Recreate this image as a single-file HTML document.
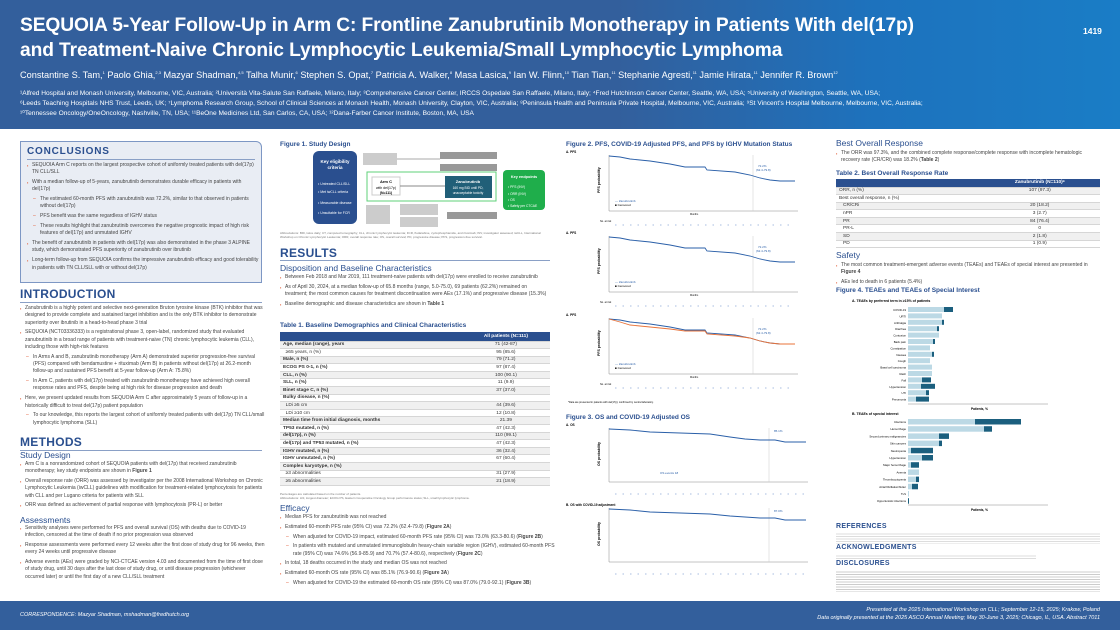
<!DOCTYPE html>
<html><head><meta charset="utf-8"><style>
*{margin:0;padding:0;box-sizing:border-box}
body{width:1120px;height:630px;overflow:hidden;background:#fff;font-family:"Liberation Sans",sans-serif;color:#333;position:relative}
.a{position:absolute}
.hdr{left:0;top:0;width:1120px;height:129px;background:linear-gradient(90deg,#335f9c 0%,#335f9c 55%,#1d72bd 78%,#1a7dc6 100%)}
.ftr{left:0;top:601px;width:1120px;height:29px;background:#335f9c}
.t{color:#fff;font-weight:bold;font-size:19.2px;letter-spacing:-0.1px;white-space:nowrap}
.b{font-size:5px;line-height:7.3px;color:#444}
.b p{padding-left:5px;position:relative;margin-bottom:2.5px}
.b p:before{content:"▪";color:#e0532a;position:absolute;left:0;font-size:4px}
.b p.d{padding-left:13px}
.b p.d:before{content:"–";left:6px;color:#e0532a;font-size:5px}
h2{position:absolute;color:#2a4f8f;font-size:12px;font-weight:bold;letter-spacing:.3px}
h3{position:absolute;color:#2a4f8f;font-size:8.5px;font-weight:normal}
.ft{position:absolute;color:#2a4f8f;font-size:6.5px;font-weight:bold}
.rule{position:absolute;height:1px;background:#8aa0c6}
table{border-collapse:collapse;font-size:4.8px;color:#333}
td{height:7.6px;padding:0 3px;border-bottom:1px solid #d6d6d6}
tr:nth-child(even) td{background:#f0f0f0}
</style></head><body>
<div class="a hdr"></div>
<div class="a t" style="left:20px;top:15px">SEQUOIA 5-Year Follow-Up in Arm C: Frontline Zanubrutinib Monotherapy in Patients With del(17p)</div>
<div class="a t" style="left:20px;top:40px">and Treatment-Naive Chronic Lymphocytic Leukemia/Small Lymphocytic Lymphoma</div>
<div class="a" style="left:1083px;top:26px;color:#fff;font-weight:bold;font-size:8.5px">1419</div>
<div class="a" style="left:20px;top:70px;color:#fff;font-size:9.2px;white-space:nowrap">Constantine S. Tam,<sup style="font-size:4px">1</sup> Paolo Ghia,<sup style="font-size:4px">2,3</sup> Mazyar Shadman,<sup style="font-size:4px">4,5</sup> Talha Munir,<sup style="font-size:4px">6</sup> Stephen S. Opat,<sup style="font-size:4px">7</sup> Patricia A. Walker,<sup style="font-size:4px">8</sup> Masa Lasica,<sup style="font-size:4px">9</sup> Ian W. Flinn,<sup style="font-size:4px">10</sup> Tian Tian,<sup style="font-size:4px">11</sup> Stephanie Agresti,<sup style="font-size:4px">11</sup> Jamie Hirata,<sup style="font-size:4px">11</sup> Jennifer R. Brown<sup style="font-size:4px">12</sup></div>
<div class="a" style="left:20px;top:89px;color:#fff;font-size:6.6px;line-height:10px;width:1090px;white-space:nowrap">¹Alfred Hospital and Monash University, Melbourne, VIC, Australia; ²Università Vita-Salute San Raffaele, Milano, Italy; ³Comprehensive Cancer Center, IRCCS Ospedale San Raffaele, Milano, Italy; ⁴Fred Hutchinson Cancer Center, Seattle, WA, USA; ⁵University of Washington, Seattle, WA, USA;<br>⁶Leeds Teaching Hospitals NHS Trust, Leeds, UK; ⁷Lymphoma Research Group, School of Clinical Sciences at Monash Health, Monash University, Clayton, VIC, Australia; ⁸Peninsula Health and Peninsula Private Hospital, Melbourne, VIC, Australia; ⁹St Vincent's Hospital Melbourne, Melbourne, VIC, Australia;<br>¹⁰Tennessee Oncology/OneOncology, Nashville, TN, USA; ¹¹BeOne Medicines Ltd, San Carlos, CA, USA; ¹²Dana-Farber Cancer Institute, Boston, MA, USA</div>

<!-- COL 1 -->
<div class="a" style="left:20px;top:141px;width:242px;height:142px;background:#e9edf4;border:1px solid #7d97c4;border-radius:0 6px 0 0"></div>
<h2 style="left:27px;top:146px;font-size:10px;letter-spacing:.8px">CONCLUSIONS</h2>
<div class="rule" style="left:27px;top:159px;width:228px"></div>
<div class="a b" style="left:27px;top:162px;width:232px">
<p>SEQUOIA Arm C reports on the largest prospective cohort of uniformly treated patients with del(17p) TN CLL/SLL</p>
<p>With a median follow-up of 5-years, zanubrutinib demonstrates durable efficacy in patients with del(17p)</p>
<p class="d">The estimated 60-month PFS with zanubrutinib was 72.2%, similar to that observed in patients without del(17p)</p>
<p class="d">PFS benefit was the same regardless of IGHV status</p>
<p class="d">These results highlight that zanubrutinib overcomes the negative prognostic impact of high risk features of del(17p) and unmutated IGHV</p>
<p>The benefit of zanubrutinib in patients with del(17p) was also demonstrated in the phase 3 ALPINE study, which demonstrated PFS superiority of zanubrutinib over ibrutinib</p>
<p>Long-term follow-up from SEQUOIA confirms the impressive zanubrutinib efficacy and good tolerability in patients with TN CLL/SLL with or without del(17p)</p>
</div>
<h2 style="left:20px;top:287px">INTRODUCTION</h2>
<div class="rule" style="left:20px;top:302px;width:242px"></div>
<div class="a b" style="left:20px;top:305px;width:245px">
<p>Zanubrutinib is a highly potent and selective next-generation Bruton tyrosine kinase (BTK) inhibitor that was designed to provide complete and sustained target inhibition and is the only BTK inhibitor to demonstrate superiority over ibrutinib in a head-to-head phase 3 trial</p>
<p>SEQUOIA (NCT03336333) is a registrational phase 3, open-label, randomized study that evaluated zanubrutinib in a broad range of patients with treatment-naive (TN) chronic lymphocytic leukemia (CLL), including those with high-risk features</p>
<p class="d">In Arms A and B, zanubrutinib monotherapy (Arm A) demonstrated superior progression-free survival (PFS) compared with bendamustine + rituximab (Arm B) in patients without del(17p) at 26.2-month follow-up and sustained PFS benefit at 5-year follow-up (Arm A: 75.8%)</p>
<p class="d">In Arm C, patients with del(17p) treated with zanubrutinib monotherapy have achieved high overall response rates and PFS, despite being at high risk for disease progression and death</p>
<p>Here, we present updated results from SEQUOIA Arm C after approximately 5 years of follow-up in a historically difficult to treat del(17p) patient population</p>
<p class="d">To our knowledge, this reports the largest cohort of uniformly treated patients with del(17p) TN CLL/small lymphocytic lymphoma (SLL)</p>
</div>
<h2 style="left:20px;top:435px">METHODS</h2>
<div class="rule" style="left:20px;top:450px;width:242px"></div>
<h3 style="left:20px;top:450px">Study Design</h3>
<div class="a b" style="left:20px;top:461px;width:245px">
<p>Arm C is a nonrandomized cohort of SEQUOIA patients with del(17p) that received zanubrutinib monotherapy; key study endpoints are shown in <b>Figure 1</b></p>
<p>Overall response rate (ORR) was assessed by investigator per the 2008 International Workshop on Chronic Lymphocytic Leukemia (iwCLL) guidelines with modification for treatment-related lymphocytosis for patients with CLL and per Lugano criteria for patients with SLL</p>
<p>ORR was defined as achievement of partial response with lymphocytosis (PR-L) or better</p>
</div>
<h3 style="left:20px;top:515px">Assessments</h3>
<div class="a b" style="left:20px;top:525px;width:245px">
<p>Sensitivity analyses were performed for PFS and overall survival (OS) with deaths due to COVID-19 infection, censored at the time of death if no prior progression was observed</p>
<p>Response assessments were performed every 12 weeks after the first dose of study drug for 96 weeks, then every 24 weeks until progressive disease</p>
<p>Adverse events (AEs) were graded by NCI-CTCAE version 4.03 and documented from the time of first dose of study drug, until 30 days after the last dose of study drug, or until disease progression (whichever occurred later) or until the first day of a new CLL/SLL treatment</p>
</div>

<!-- COL 2 -->
<div class="ft" style="left:280px;top:141px">Figure 1. Study Design</div>
<svg class="a" style="left:280px;top:150px" width="275" height="80">
<rect x="33" y="1" width="44" height="73" rx="6" fill="#2a4f8f"/>
<text x="55" y="13" fill="#fff" font-size="4.5" font-weight="bold" text-anchor="middle">Key eligibility</text>
<text x="55" y="19" fill="#fff" font-size="4.5" font-weight="bold" text-anchor="middle">criteria</text>
<text x="38" y="35" fill="#fff" font-size="3.5">• Untreated CLL/SLL</text>
<text x="38" y="43" fill="#fff" font-size="3.5">• Met iwCLL criteria</text>
<text x="38" y="54" fill="#fff" font-size="3.5">• Measurable disease</text>
<text x="38" y="64" fill="#fff" font-size="3.5">• Unsuitable for FCR</text>
<rect x="83" y="3" width="34" height="12" fill="#ccc"/>
<rect x="160" y="2" width="57" height="7" fill="#999"/><rect x="160" y="14" width="57" height="7" fill="#999"/>
<line x1="117" y1="9" x2="160" y2="9" stroke="#aaa"/>
<rect x="87" y="22" width="129" height="29" fill="none" stroke="#5fd07a" stroke-width="1"/>
<rect x="92" y="27" width="28" height="18" fill="#fff" stroke="#ccc"/>
<text x="106" y="33" font-size="4" font-weight="bold" text-anchor="middle">Arm C</text>
<text x="106" y="39" font-size="3.5" text-anchor="middle">with del(17p)</text>
<text x="106" y="44" font-size="3.5" font-weight="bold" text-anchor="middle">(N=111)</text>
<line x1="120" y1="36" x2="165" y2="36" stroke="#888"/>
<rect x="165" y="26" width="47" height="22" fill="#215f78"/>
<text x="188" y="33" fill="#fff" font-size="4" font-weight="bold" text-anchor="middle">Zanubrutinib</text>
<text x="188" y="39" fill="#fff" font-size="3.3" text-anchor="middle">160 mg BID until PD,</text>
<text x="188" y="44" fill="#fff" font-size="3.3" text-anchor="middle">unacceptable toxicity</text>
<rect x="223" y="20" width="42" height="40" rx="4" fill="#1fae4b"/>
<text x="244" y="28" fill="#fff" font-size="3.8" font-weight="bold" text-anchor="middle">Key endpoints</text>
<text x="228" y="38" fill="#fff" font-size="3.3">• PFS (INV)</text><text x="228" y="45" fill="#fff" font-size="3.3">• ORR (INV)</text><text x="228" y="51" fill="#fff" font-size="3.3">• OS</text><text x="228" y="57" fill="#fff" font-size="3.3">• Safety per CTCAE</text>
<rect x="86" y="55" width="24" height="19" fill="#ccc"/>
<rect x="120" y="54" width="38" height="11" fill="#ccc"/><rect x="120" y="67" width="38" height="10" fill="#ccc"/>
<rect x="167" y="62" width="50" height="7" fill="#999"/>
</svg>
<div class="a" style="left:280px;top:231px;width:270px;font-size:3px;line-height:4px;color:#777">Abbreviations: BID, twice daily; CT, computed tomography; CLL, chronic lymphocytic leukemia; FCR, fludarabine, cyclophosphamide, and rituximab; INV, investigator assessed; iwCLL, International Workshop on Chronic Lymphocytic Leukemia; ORR, overall response rate; OS, overall survival; PD, progressive disease; PFS, progression-free survival.</div>
<h2 style="left:280px;top:246px">RESULTS</h2>
<div class="rule" style="left:280px;top:260px;width:270px"></div>
<h3 style="left:280px;top:263px">Disposition and Baseline Characteristics</h3>
<div class="a b" style="left:280px;top:274px;width:270px">
<p>Between Feb 2018 and Mar 2019, 111 treatment-naive patients with del(17p) were enrolled to receive zanubrutinib</p>
<p>As of April 30, 2024, at a median follow-up of 65.8 months (range, 5.0-75.0), 69 patients (62.2%) remained on treatment; the most common causes for treatment discontinuation were AEs (17.1%) and progressive disease (15.3%)</p>
<p>Baseline demographic and disease characteristics are shown in <b>Table 1</b></p>
</div>
<div class="ft" style="left:280px;top:322px">Table 1. Baseline Demographics and Clinical Characteristics</div>
<table class="a" style="left:280px;top:332px;width:270px">
<tr><td style="background:#2a4f8f;height:9px"></td><td style="background:#2a4f8f;color:#fff;font-weight:bold;text-align:center">All patients (N=111)</td></tr>
<tr><td><b>Age, median (range), years</b></td><td style="text-align:center">71 (42-87)</td></tr>
<tr><td>&nbsp;&nbsp;≥65 years, n (%)</td><td style="text-align:center">95 (85.6)</td></tr>
<tr><td><b>Male, n (%)</b></td><td style="text-align:center">79 (71.2)</td></tr>
<tr><td><b>ECOG PS 0-1, n (%)</b></td><td style="text-align:center">97 (87.4)</td></tr>
<tr><td><b>CLL, n (%)</b></td><td style="text-align:center">100 (90.1)</td></tr>
<tr><td><b>SLL, n (%)</b></td><td style="text-align:center">11 (9.9)</td></tr>
<tr><td><b>Binet stage C, n (%)</b></td><td style="text-align:center">37 (37.0)</td></tr>
<tr><td><b>Bulky disease, n (%)</b></td><td></td></tr>
<tr><td>&nbsp;&nbsp;LDi ≥5 cm</td><td style="text-align:center">44 (39.6)</td></tr>
<tr><td>&nbsp;&nbsp;LDi ≥10 cm</td><td style="text-align:center">12 (10.8)</td></tr>
<tr><td><b>Median time from initial diagnosis, months</b></td><td style="text-align:center">21.39</td></tr>
<tr><td><b>TP53 mutated, n (%)</b></td><td style="text-align:center">47 (42.3)</td></tr>
<tr><td><b>del(17p), n (%)</b></td><td style="text-align:center">110 (99.1)</td></tr>
<tr><td><b>del(17p) and TP53 mutated, n (%)</b></td><td style="text-align:center">47 (42.3)</td></tr>
<tr><td><b>IGHV mutated, n (%)</b></td><td style="text-align:center">36 (32.4)</td></tr>
<tr><td><b>IGHV unmutated, n (%)</b></td><td style="text-align:center">67 (60.4)</td></tr>
<tr><td><b>Complex karyotype, n (%)</b></td><td></td></tr>
<tr><td>&nbsp;&nbsp;≥3 abnormalities</td><td style="text-align:center">31 (27.9)</td></tr>
<tr><td>&nbsp;&nbsp;≥5 abnormalities</td><td style="text-align:center">21 (18.9)</td></tr>
</table>
<div class="a" style="left:280px;top:492px;width:270px;font-size:3px;line-height:4px;color:#777">Percentages are calculated based on the number of patients.<br>Abbreviations: LDi, longest diameter; ECOG PS, Eastern Cooperative Oncology Group performance status; SLL, small lymphocytic lymphoma.</div>
<h3 style="left:280px;top:503px">Efficacy</h3>
<div class="a b" style="left:280px;top:514px;width:275px">
<p>Median PFS for zanubrutinib was not reached</p>
<p>Estimated 60-month PFS rate (95% CI) was 72.2% (62.4-79.8) (<b>Figure 2A</b>)</p>
<p class="d">When adjusted for COVID-19 impact, estimated 60-month PFS rate (95% CI) was 73.0% (63.3-80.6) (<b>Figure 2B</b>)</p>
<p class="d">In patients with mutated and unmutated immunoglobulin heavy-chain variable region (IGHV), estimated 60-month PFS rate (95% CI) was 74.6% (56.9-85.9) and 70.7% (57.4-80.6), respectively (<b>Figure 2C</b>)</p>
<p>In total, 18 deaths occurred in the study and median OS was not reached</p>
<p>Estimated 60-month OS rate (95% CI) was 85.1% (76.9-90.6) (<b>Figure 3A</b>)</p>
<p class="d">When adjusted for COVID-19 the estimated 60-month OS rate (95% CI) was 87.0% (79.0-92.1) (<b>Figure 3B</b>)</p>
</div>

<!-- COL 3 -->
<div class="ft" style="left:566px;top:141px">Figure 2. PFS, COVID-19 Adjusted PFS, and PFS by IGHV Mutation Status</div>
<svg class="a" style="left:560px;top:148px" width="265" height="452" font-family="Liberation Sans" font-size="3">
<g id="k">
<text x="6" y="5" font-size="3.2" font-weight="bold">A. PFS</text>
<line x1="49" y1="7" x2="49" y2="63" stroke="#888" stroke-width=".5"/>
<line x1="49" y1="63" x2="238" y2="63" stroke="#888" stroke-width=".5"/>
<line x1="193" y1="7" x2="193" y2="63" stroke="#ccc" stroke-width=".5"/>
<polyline fill="none" stroke="#2a5fa8" stroke-width=".9" points="49,8 60,9 70,11 90,13 110,16 125,19 145,19 147,22 175,24 190,27 200,30 210,32 220,33 235,33"/>
<text x="40" y="45" transform="rotate(-90 40 45)" font-size="3.5" font-weight="bold">PFS probability</text>
<text x="198" y="19" fill="#2a5fa8">72.2%</text><text x="196" y="23" fill="#2a5fa8">(62.4-79.8)</text>
<text x="55" y="54" fill="#2a5fa8">— Zanubrutinib</text><text x="55" y="58">■ Censored</text>
<text x="130" y="67" font-size="2.5">Months</text>
<text x="40" y="74" font-size="2.5">No. at risk</text>
<line x1="55" y1="77" x2="235" y2="77" stroke="#8aa7d6" stroke-width=".8" stroke-dasharray="1.5 6"/>
</g>
<use href="#k" y="81"/>
<use href="#k" y="163"/>
<polyline fill="none" stroke="#e8733a" stroke-width=".9" points="49,171 60,174 70,177 90,179 110,181 125,183 145,183 147,186 175,188 190,190 200,193 210,195 220,196 235,196"/>
<text x="8" y="255" font-size="2.5">*Data are presented in patients with del(17p); confirmed by central laboratory.</text>
<text x="6" y="271" font-size="6.5" font-weight="bold" fill="#2a4f8f">Figure 3. OS and COVID-19 Adjusted OS</text>
<g transform="translate(0,273)">
<text x="6" y="5" font-size="3.2" font-weight="bold">A. OS</text>
<line x1="49" y1="7" x2="49" y2="61" stroke="#888" stroke-width=".5"/>
<line x1="49" y1="61" x2="248" y2="61" stroke="#888" stroke-width=".5"/>
<line x1="209" y1="7" x2="209" y2="61" stroke="#ccc" stroke-width=".5"/>
<polyline fill="none" stroke="#2a5fa8" stroke-width=".9" points="49,8 70,9 90,11 120,12 150,13 170,16 185,18 200,19 215,19 225,21 246,21"/>
<text x="40" y="45" transform="rotate(-90 40 45)" font-size="3.5" font-weight="bold">OS probability</text>
<text x="214" y="11" fill="#2a5fa8">85.1%</text>
<text x="100" y="53" fill="#2a5fa8">OS events 18</text>
<line x1="55" y1="73" x2="246" y2="73" stroke="#8aa7d6" stroke-width=".8" stroke-dasharray="1.5 6"/>
</g>
<g transform="translate(0,353)">
<text x="6" y="5" font-size="3.2" font-weight="bold">B. OS with COVID-19 adjustment</text>
<line x1="49" y1="7" x2="49" y2="61" stroke="#888" stroke-width=".5"/>
<line x1="49" y1="61" x2="248" y2="61" stroke="#888" stroke-width=".5"/>
<line x1="209" y1="7" x2="209" y2="61" stroke="#ccc" stroke-width=".5"/>
<polyline fill="none" stroke="#2a5fa8" stroke-width=".9" points="49,8 70,9 90,11 120,12 150,13 170,15 185,16 200,17 215,17 225,19 246,19"/>
<text x="40" y="45" transform="rotate(-90 40 45)" font-size="3.5" font-weight="bold">OS probability</text>
<text x="214" y="11" fill="#2a5fa8">87.0%</text>
<line x1="55" y1="73" x2="246" y2="73" stroke="#8aa7d6" stroke-width=".8" stroke-dasharray="1.5 6"/>
</g>
</svg>

<!-- COL 4 -->
<h3 style="left:836px;top:138px">Best Overall Response</h3>
<div class="a b" style="left:836px;top:150px;width:265px">
<p>The ORR was 97.3%, and the combined complete response/complete response with incomplete hematologic recovery rate (CR/CRi) was 18.2% (<b>Table 2</b>)</p>
</div>
<div class="ft" style="left:836px;top:170px">Table 2. Best Overall Response Rate</div>
<table class="a" style="left:836px;top:179px;width:264px">
<tr><td style="background:#2a4f8f;height:8px"></td><td style="background:#2a4f8f;color:#fff;font-weight:bold;text-align:center">Zanubrutinib (N=110)ᵃ</td></tr>
<tr><td>ORR, n (%)</td><td style="text-align:center">107 (97.3)</td></tr>
<tr><td>Best overall response, n (%)</td><td></td></tr>
<tr><td>&nbsp;&nbsp;&nbsp;CR/CRi</td><td style="text-align:center">20 (18.2)</td></tr>
<tr><td>&nbsp;&nbsp;&nbsp;nPR</td><td style="text-align:center">3 (2.7)</td></tr>
<tr><td>&nbsp;&nbsp;&nbsp;PR</td><td style="text-align:center">84 (76.4)</td></tr>
<tr><td>&nbsp;&nbsp;&nbsp;PR-L</td><td style="text-align:center">0</td></tr>
<tr><td>&nbsp;&nbsp;&nbsp;SD</td><td style="text-align:center">2 (1.8)</td></tr>
<tr><td>&nbsp;&nbsp;&nbsp;PD</td><td style="text-align:center">1 (0.9)</td></tr>
</table>
<h3 style="left:836px;top:250px">Safety</h3>
<div class="a b" style="left:836px;top:262px;width:265px">
<p>The most common treatment-emergent adverse events (TEAEs) and TEAEs of special interest are presented in <b>Figure 4</b></p>
<p>AEs led to death in 6 patients (5.4%)</p>
</div>
<div class="ft" style="left:836px;top:287px">Figure 4. TEAEs and TEAEs of Special Interest</div>
<svg class="a" style="left:836px;top:297px" width="270" height="220" font-family="Liberation Sans" font-size="3">
<text x="16" y="5" font-size="3.5" font-weight="bold">A. TEAEs by preferred term in ≥15% of patients</text>
<g font-size="2.8" text-anchor="end">
<text x="70" y="14">COVID-19</text><text x="70" y="20.4">URTI</text><text x="70" y="26.8">Arthralgia</text><text x="70" y="33.2">Diarrhea</text><text x="70" y="39.6">Contusion</text><text x="70" y="46">Back pain</text><text x="70" y="52.4">Constipation</text><text x="70" y="58.8">Nausea</text><text x="70" y="65.2">Cough</text><text x="70" y="71.6">Basal cell carcinoma</text><text x="70" y="78">Rash</text><text x="70" y="84.4">Fall</text><text x="70" y="90.8">Hypertension</text><text x="70" y="97.2">UTI</text><text x="70" y="103.6">Pneumonia</text>
</g>
<g transform="translate(0,10)">
<g fill="#bcd9e5">
<rect x="72" y="0" width="36" height="5"/><rect x="72" y="6.4" width="34" height="5"/><rect x="72" y="12.8" width="34" height="5"/><rect x="72" y="19.2" width="29" height="5"/><rect x="72" y="25.6" width="31" height="5"/><rect x="72" y="32" width="25" height="5"/><rect x="72" y="38.4" width="22" height="5"/><rect x="72" y="44.8" width="24" height="5"/><rect x="72" y="51.2" width="22" height="5"/><rect x="72" y="57.6" width="24" height="5"/><rect x="72" y="64" width="24" height="5"/><rect x="72" y="70.4" width="14" height="5"/><rect x="72" y="76.8" width="13" height="5"/><rect x="72" y="83.2" width="18" height="5"/><rect x="72" y="89.6" width="8" height="5"/>
</g>
<g fill="#1b5f7e">
<rect x="108" y="0" width="9" height="5"/><rect x="106" y="12.8" width="2" height="5"/><rect x="101" y="19.2" width="2" height="5"/><rect x="97" y="32" width="2" height="5"/><rect x="96" y="44.8" width="2" height="5"/><rect x="86" y="70.4" width="9" height="5"/><rect x="85" y="76.8" width="14" height="5"/><rect x="90" y="83.2" width="3" height="5"/><rect x="80" y="89.6" width="13" height="5"/>
</g>
</g>
<line x1="72" y1="107" x2="212" y2="107" stroke="#888" stroke-width=".5"/>
<text x="135" y="113" font-size="3.2" font-weight="bold">Patients, %</text>
<text x="16" y="118" font-size="3.5" font-weight="bold">B. TEAEs of special interest</text>
<g font-size="2.8" text-anchor="end">
<text x="70" y="126">Infections</text><text x="70" y="133.2">Hemorrhage</text><text x="70" y="140.4">Second primary malignancies</text><text x="70" y="147.6">Skin cancers</text><text x="70" y="154.8">Neutropenia</text><text x="70" y="162">Hypertension</text><text x="70" y="169.2">Major hemorrhage</text><text x="70" y="176.4">Anemia</text><text x="70" y="183.6">Thrombocytopenia</text><text x="70" y="190.8">Atrial fibrillation/flutter</text><text x="70" y="198">TLS</text><text x="70" y="205.2">Opportunistic infections</text>
</g>
<g transform="translate(0,122)">
<g fill="#bcd9e5">
<rect x="72" y="0" width="67" height="5.5"/><rect x="72" y="7.2" width="76" height="5.5"/><rect x="72" y="14.4" width="31" height="5.5"/><rect x="72" y="21.6" width="31" height="5.5"/><rect x="72" y="28.8" width="3" height="5.5"/><rect x="72" y="36" width="14" height="5.5"/><rect x="72" y="43.2" width="3" height="5.5"/><rect x="72" y="50.4" width="11" height="5.5"/><rect x="72" y="57.6" width="8" height="5.5"/><rect x="72" y="64.8" width="4" height="5.5"/><rect x="72" y="72" width="1" height="5.5"/>
</g>
<g fill="#1b5f7e">
<rect x="139" y="0" width="46" height="5.5"/><rect x="148" y="7.2" width="8" height="5.5"/><rect x="103" y="14.4" width="10" height="5.5"/><rect x="103" y="21.6" width="3" height="5.5"/><rect x="75" y="28.8" width="22" height="5.5"/><rect x="86" y="36" width="11" height="5.5"/><rect x="75" y="43.2" width="8" height="5.5"/><rect x="80" y="57.6" width="3" height="5.5"/><rect x="76" y="64.8" width="6" height="5.5"/><rect x="72" y="79.2" width="1" height="5.5"/>
</g>
</g>
<line x1="72" y1="208" x2="212" y2="208" stroke="#888" stroke-width=".5"/>
<text x="135" y="214" font-size="3.2" font-weight="bold">Patients, %</text>
</svg>
<h2 style="left:836px;top:523px;font-size:7px">REFERENCES</h2>
<div class="a" style="left:836px;top:532px;width:264px;height:12px;background:repeating-linear-gradient(#fff 0,#fff 1.5px,#ddd 1.5px,#ddd 2.5px)"></div>
<h2 style="left:836px;top:544px;font-size:7px">ACKNOWLEDGMENTS</h2>
<div class="a" style="left:836px;top:554px;width:200px;height:5px;background:repeating-linear-gradient(#fff 0,#fff 1.5px,#ddd 1.5px,#ddd 2.5px)"></div>
<h2 style="left:836px;top:560px;font-size:7px">DISCLOSURES</h2>
<div class="a" style="left:836px;top:570px;width:264px;height:22px;background:repeating-linear-gradient(#fff 0,#fff 1.5px,#ccc 1.5px,#ccc 2.5px)"></div>

<div class="a ftr"></div>
<div class="a" style="left:20px;top:612px;color:#fff;font-size:5.5px;font-style:italic">CORRESPONDENCE: Mazyar Shadman, mshadman@fredhutch.org</div>
<div class="a" style="left:700px;top:606px;width:400px;text-align:right;color:#fff;font-size:5.5px;font-style:italic;line-height:8px">Presented at the 2025 International Workshop on CLL; September 12-15, 2025; Krakow, Poland<br>Data originally presented at the 2025 ASCO Annual Meeting; May 30-June 3, 2025; Chicago, IL, USA. Abstract 7011</div>
</body></html>
